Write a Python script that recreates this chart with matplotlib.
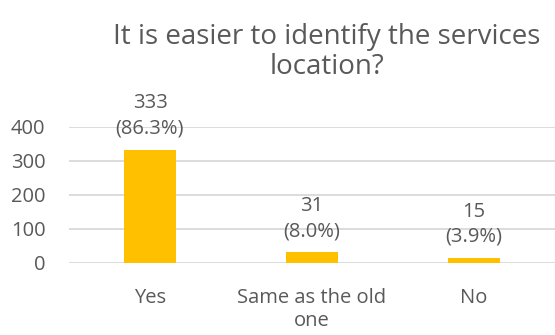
import matplotlib
matplotlib.use("Agg")
import matplotlib.pyplot as plt

categories = ["Yes", "Same as the old\none", "No"]
counts = [333, 31, 15]
percents = [86.3, 8.0, 3.9]
yticks = [0, 100, 200, 300, 400]

plt.rcParams["font.family"] = ["Open Sans", "DejaVu Sans"]
text_color = "#595959"

fig = plt.figure(figsize=(5.55, 3.35), dpi=100)
ax = fig.add_axes([69 / 555, (335 - 263) / 335, 1 - 69 / 555, (263 - 127) / 335])

x = range(len(categories))
bars = ax.bar(x, counts, width=0.315, color="#FFC000", zorder=3)
ax.set_xlim(-0.5, len(categories) - 0.5)
ax.set_ylim(0, 400)
ax.set_yticks(yticks)
ax.set_yticklabels([str(t) for t in yticks], fontsize=14.5, color=text_color)
ax.set_xticks(list(x))
ax.set_xticklabels(categories, fontsize=14.5, color=text_color, linespacing=1.2)
ax.tick_params(axis="both", length=0)
ax.tick_params(axis="x", pad=18)
ax.tick_params(axis="y", pad=17)
ax.grid(axis="y", color="#D9D9D9", linewidth=1.3, zorder=0)
for s in ax.spines.values():
    s.set_visible(False)

for xi, c, p in zip(x, counts, percents):
    ax.annotate(f"{c}\n({p:.1f}%)", (xi, c), xytext=(0, 8), textcoords="offset points",
                ha="center", va="bottom", fontsize=14.5, color=text_color, linespacing=1.35)

fig.text(327 / 555, 1 - 52 / 335, "It is easier to identify the services\nlocation?",
         ha="center", va="center", fontsize=20, color=text_color, linespacing=1.08)

fig.savefig("out.png", dpi=100)
